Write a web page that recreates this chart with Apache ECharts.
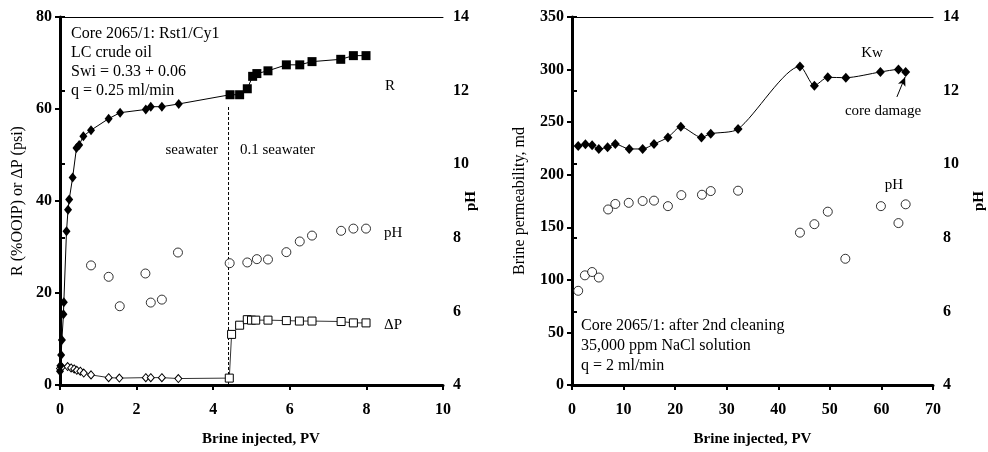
<!DOCTYPE html>
<html>
<head>
<meta charset="utf-8">
<script src="https://cdn.jsdelivr.net/npm/echarts@6/dist/echarts.min.js"></script>
<style>
  html, body { margin: 0; padding: 0; background: #fff; }
  #chart { width: 988px; height: 452px; }
</style>
</head>
<body>
<div id="chart"></div>
<script>
// left panel: recovery R and pressure drop vs PV
const rSeawater = [[0.00, 3.0], [0.01, 4.2], [0.03, 6.5], [0.05, 9.8], [0.09, 15.4], [0.10, 18.0],
  [0.17, 33.4], [0.21, 38.1], [0.24, 40.3], [0.33, 45.1], [0.43, 51.5], [0.50, 52.2], [0.61, 54.1],
  [0.81, 55.4], [1.27, 57.9], [1.57, 59.2], [2.24, 59.9], [2.37, 60.5], [2.66, 60.5], [3.10, 61.1]];
const rLowSal = [[4.44, 63.1], [4.69, 63.1], [4.89, 64.4], [5.03, 67.1], [5.14, 67.7], [5.43, 68.3],
  [5.91, 69.6], [6.26, 69.6], [6.58, 70.3], [7.33, 70.8], [7.66, 71.6], [7.99, 71.6]];
const dpSeawater = [[0.00, 3.6], [0.05, 3.9], [0.20, 4.0], [0.29, 3.7], [0.37, 3.5], [0.44, 3.2],
  [0.53, 3.0], [0.62, 2.6], [0.81, 2.2], [1.27, 1.6], [1.55, 1.5], [2.24, 1.6], [2.37, 1.6],
  [2.66, 1.6], [3.09, 1.4]];
const dpLowSal = [[4.42, 1.5], [4.48, 11.0], [4.69, 13.0], [4.89, 14.2], [5.00, 14.1], [5.11, 14.1],
  [5.43, 14.1], [5.91, 14.0], [6.25, 13.9], [6.58, 13.9], [7.34, 13.8], [7.66, 13.5], [7.99, 13.5]];
const phLeft = [[0.81, 7.25], [1.27, 6.94], [1.56, 6.14], [2.23, 7.03], [2.37, 6.24], [2.66, 6.32],
  [3.08, 7.60], [4.43, 7.31], [4.89, 7.33], [5.14, 7.42], [5.43, 7.41], [5.91, 7.61], [6.26, 7.90],
  [6.58, 8.06], [7.34, 8.19], [7.66, 8.25], [7.99, 8.25]];
const switchLine = [[4.4, 0], [4.4, 60.5]];

// right panel: brine permeability and pH vs PV
const kw = [[1.2, 227.3], [2.6, 228.9], [3.9, 228.0], [5.2, 224.5], [6.9, 226.1], [8.4, 229.2],
  [11.1, 224.5], [13.7, 224.5], [15.9, 229.2], [18.6, 235.5], [21.1, 245.6], [25.1, 235.5],
  [26.9, 239.0], [32.2, 243.4], [44.2, 303.0], [47.0, 284.7], [49.6, 292.6], [53.1, 292.3],
  [59.8, 297.7], [63.3, 300.1], [64.7, 297.7]];
const phRight = [[1.2, 6.56], [2.5, 6.98], [3.9, 7.07], [5.2, 6.92], [7.0, 8.77], [8.4, 8.92],
  [11.0, 8.95], [13.7, 9.00], [15.9, 9.01], [18.6, 8.86], [21.2, 9.16], [25.2, 9.17], [26.9, 9.27],
  [32.2, 9.28], [44.2, 8.14], [47.0, 8.37], [49.6, 8.71], [53.0, 7.43], [59.9, 8.86], [63.3, 8.40],
  [64.7, 8.91]];
const damageArrow = [[63.0, 274], [64.6, 293]];

const FONT = '"Liberation Serif", "Times New Roman", serif';

const chart = echarts.init(document.getElementById('chart'), null, { renderer: 'canvas' });

function filled(sym, size) {
  return p => ({ value: p, symbol: sym, symbolSize: size, itemStyle: { color: '#000', borderWidth: 0 } });
}
function hollow(sym, size) {
  return p => ({ value: p, symbol: sym, symbolSize: size,
    itemStyle: { color: '#fff', borderColor: '#000', borderWidth: 1 } });
}

const tickFont = { fontFamily: FONT, fontSize: 16, fontWeight: 'bold', color: '#000' };

function bottomAxis(grid, max, interval, name, pad) {
  return {
    gridIndex: grid, type: 'value', min: 0, max: max, interval: interval, position: 'bottom',
    name: name, nameLocation: 'middle', nameGap: 47,
    nameTextStyle: { fontFamily: FONT, fontSize: 15, fontWeight: 'bold', color: '#000', padding: pad },
    axisLine: { lineStyle: { color: '#000', width: 3 } },
    axisTick: { length: 5, lineStyle: { color: '#000', width: 2 } },
    axisLabel: Object.assign({ margin: 17 }, tickFont),
    splitLine: { show: false }
  };
}
function topBorder(grid, max) {
  return {
    gridIndex: grid, type: 'value', min: 0, max: max, position: 'top',
    axisLine: { lineStyle: { color: '#000', width: 1 } },
    axisTick: { show: false }, axisLabel: { show: false }, splitLine: { show: false }
  };
}
function leftAxis(grid, max, interval, name, gap) {
  return {
    gridIndex: grid, type: 'value', min: 0, max: max, interval: interval, position: 'left',
    name: name, nameLocation: 'middle', nameGap: gap, nameRotate: 90,
    nameTextStyle: { fontFamily: FONT, fontSize: 16, color: '#000' },
    axisLine: { show: true, lineStyle: { color: '#000', width: 3 } },
    axisTick: { show: true, length: 5, lineStyle: { color: '#000', width: 2 } },
    axisLabel: Object.assign({ margin: 8 }, tickFont),
    splitLine: { show: false }
  };
}
function phAxis(grid, gap) {
  return {
    gridIndex: grid, type: 'value', min: 4, max: 14, interval: 2, position: 'right',
    name: 'pH', nameLocation: 'middle', nameGap: gap, nameRotate: 90, nameMoveOverlap: false,
    nameTextStyle: { fontFamily: FONT, fontSize: 15, fontWeight: 'bold', color: '#000' },
    axisLine: { show: true, lineStyle: { color: '#000', width: 2 } },
    axisTick: { show: true, length: 5, lineStyle: { color: '#000', width: 2 } },
    axisLabel: Object.assign({ margin: 10 }, tickFont),
    splitLine: { show: false }
  };
}
function txt(x, y, text, align, size) {
  return { type: 'text', x: x, y: y, silent: true,
    style: { text: text, font: (size || 16) + 'px ' + FONT, fill: '#000',
      textAlign: align || 'left', textVerticalAlign: 'middle' } };
}

const option = {
  animation: false,
  backgroundColor: '#fff',
  grid: [
    { left: 60, top: 17, width: 383, height: 370 },
    { left: 572, top: 17, width: 362, height: 370 }
  ],
  xAxis: [
    bottomAxis(0, 10, 2, 'Brine injected, PV', [0, 0, 0, 19]),
    topBorder(0, 10),
    bottomAxis(1, 70, 10, 'Brine injected, PV', 0),
    topBorder(1, 70)
  ],
  yAxis: [
    leftAxis(0, 80, 20, 'R (%OOIP) or ΔP (psi)', 34),
    phAxis(0, 21),
    leftAxis(1, 350, 50, 'Brine permeability, md', 44),
    phAxis(1, 39)
  ],
  series: [
    {
      type: 'line', xAxisIndex: 0, yAxisIndex: 0, z: 3,
      lineStyle: { color: '#000', width: 1 },
      data: rSeawater.map(filled('diamond', [8, 10])).concat(rLowSal.map(filled('rect', 9)))
    },
    {
      type: 'line', xAxisIndex: 0, yAxisIndex: 0, z: 2,
      lineStyle: { color: '#333', width: 1 },
      data: dpSeawater.map(hollow('diamond', [7, 8])).concat(dpLowSal.map(hollow('rect', 8)))
    },
    {
      type: 'scatter', xAxisIndex: 0, yAxisIndex: 1, symbol: 'circle', symbolSize: 9,
      itemStyle: { color: '#fff', borderColor: '#000', borderWidth: 1 },
      data: phLeft
    },
    {
      type: 'line', xAxisIndex: 0, yAxisIndex: 0, symbol: 'none', z: 1,
      lineStyle: { color: '#000', width: 1, type: [3, 2] },
      data: switchLine
    },
    {
      type: 'line', xAxisIndex: 2, yAxisIndex: 2, smooth: 0.25, symbol: 'diamond', symbolSize: [9, 10],
      itemStyle: { color: '#000' },
      lineStyle: { color: '#000', width: 1 },
      data: kw,
      markLine: {
        silent: true, symbol: ['none', 'arrow'], symbolSize: [6, 9],
        label: { show: false },
        lineStyle: { color: '#000', width: 1, type: 'solid' },
        data: [[{ coord: damageArrow[0] }, { coord: damageArrow[1] }]]
      }
    },
    {
      type: 'scatter', xAxisIndex: 2, yAxisIndex: 3, symbol: 'circle', symbolSize: 9,
      itemStyle: { color: '#fff', borderColor: '#000', borderWidth: 1 },
      data: phRight
    }
  ],
  graphic: [
    txt(71, 34, 'Core 2065/1: Rst1/Cy1'),
    txt(71, 53, 'LC crude oil'),
    txt(71, 72, 'Swi = 0.33 + 0.06'),
    txt(71, 91, 'q = 0.25 ml/min'),
    txt(218, 150, 'seawater', 'right', 15),
    txt(240, 150, '0.1 seawater', 'left', 15),
    txt(385, 86, 'R', 'left', 15),
    txt(384, 233, 'pH', 'left', 15),
    txt(384, 325, 'ΔP', 'left', 15),
    txt(872, 53, 'Kw', 'center', 15),
    txt(883, 111, 'core damage', 'center', 15),
    txt(894, 185, 'pH', 'center', 15),
    txt(581, 326, 'Core 2065/1: after 2nd cleaning'),
    txt(581, 346, '35,000 ppm NaCl solution'),
    txt(581, 366, 'q = 2 ml/min')
  ]
};

chart.setOption(option);
</script>
</body>
</html>
